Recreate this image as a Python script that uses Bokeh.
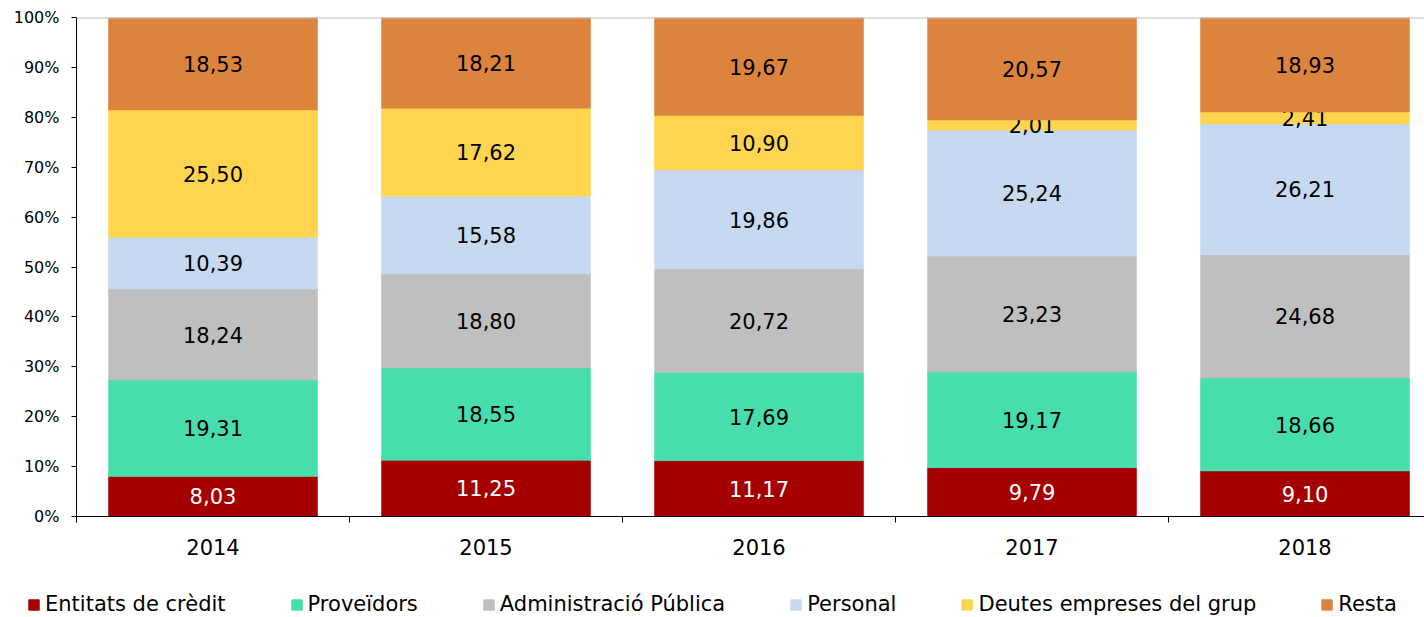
from bokeh.plotting import figure
from bokeh.layouts import column
from bokeh.models import ColumnDataSource, Range1d, FixedTicker, Span, Legend, LegendItem
from bokeh.embed import file_html
from bokeh.resources import INLINE
from bokeh.core.properties import value

years = ["2014", "2015", "2016", "2017", "2018"]
series = ["Entitats de crèdit", "Proveïdors", "Administració Pública", "Personal",
          "Deutes empreses del grup", "Resta"]
entitats = [8.03, 11.25, 11.17, 9.79, 9.10]
proveidors = [19.31, 18.55, 17.69, 19.17, 18.66]
administracio = [18.24, 18.80, 20.72, 23.23, 24.68]
personal = [10.39, 15.58, 19.86, 25.24, 26.21]
deutes = [25.50, 17.62, 10.90, 2.01, 2.41]
resta = [18.53, 18.21, 19.67, 20.57, 18.93]
y_ticks = [0, 10, 20, 30, 40, 50, 60, 70, 80, 90, 100]

values = [entitats, proveidors, administracio, personal, deutes, resta]
colors = ["#A50000", "#48DDAC", "#BFBFBF", "#C6D9F1", "#FFD54F", "#DC843E"]
label_colors = ["white", "black", "black", "black", "black", "black"]

FONT = "DejaVu Sans"
xs = list(range(len(years)))

p = figure(width=1424, height=570, x_range=Range1d(-0.5, 4.4377), y_range=Range1d(0, 100),
           output_backend="svg", toolbar_location=None,
           min_border_left=76, min_border_top=17, min_border_right=0, min_border_bottom=54)
p.outline_line_color = None
p.xgrid.visible = False
p.ygrid.visible = False
p.background_fill_color = "white"
p.border_fill_color = "white"

bottoms = [0.0] * len(years)
for name, vals, col, lc in zip(series, values, colors, label_colors):
    tops = [b + v for b, v in zip(bottoms, vals)]
    src = ColumnDataSource(dict(
        x=xs, bottom=bottoms, top=tops,
        mid=[(b + t) / 2 for b, t in zip(bottoms, tops)],
        lab=[f"{v:.2f}".replace(".", ",") for v in vals],
    ))
    p.vbar(x="x", bottom="bottom", top="top", width=0.766, source=src,
           fill_color=col, line_color=col, line_width=0.5)
    p.text(x="x", y="mid", text="lab", source=src, text_align="center",
           text_baseline="middle", text_font=value(FONT), text_font_size="21px",
           text_color=lc)
    bottoms = tops

p.add_layout(Span(location=100, dimension="width", line_color="#BFBFBF", line_width=2))

# y axis
p.yaxis.ticker = FixedTicker(ticks=y_ticks)
p.yaxis.major_label_overrides = {t: f"{t}%" for t in y_ticks}
p.yaxis.major_label_text_font = FONT
p.yaxis.major_label_text_font_size = "16px"
p.yaxis.major_label_text_color = "black"
p.yaxis.major_tick_out = 5
p.yaxis.major_tick_in = 0
p.yaxis.minor_tick_line_color = None
p.yaxis.axis_line_color = "black"
p.yaxis.major_tick_line_color = "black"
p.yaxis.major_label_standoff = 12

# x axis
p.xaxis.ticker = FixedTicker(ticks=xs, minor_ticks=[i - 0.5 for i in range(len(years) + 1)])
p.xaxis.major_label_overrides = {i: y for i, y in enumerate(years)}
p.xaxis.major_label_text_font = FONT
p.xaxis.major_label_text_font_size = "21px"
p.xaxis.major_label_text_color = "black"
p.xaxis.major_tick_out = 0
p.xaxis.major_tick_in = 0
p.xaxis.minor_tick_out = 6
p.xaxis.minor_tick_in = 0
p.xaxis.minor_tick_line_color = "black"
p.xaxis.axis_line_color = "black"
p.xaxis.major_label_standoff = 16

# legend strip (separate figure so it can span the full width)
lg = figure(width=1424, height=47, x_range=Range1d(0, 1), y_range=Range1d(0, 1),
            output_backend="svg", toolbar_location=None, min_border=0)
if hasattr(lg, "frame_align"):
    lg.frame_align = False
lg.outline_line_color = None
lg.axis.visible = False
lg.grid.visible = False
items = []
for name, col in zip(series, colors):
    r = lg.rect(x=[-10], y=[-10], width=0.01, height=0.01, fill_color=col, line_color=col)
    items.append(LegendItem(label=name, renderers=[r]))
legend = Legend(items=items, orientation="horizontal", location=(27, 1),
                glyph_width=13, glyph_height=13, label_standoff=5, spacing=64,
                padding=0, margin=0, border_line_color=None, background_fill_alpha=0,
                label_text_font=FONT, label_text_font_size="21px",
                label_text_color="black", label_height=24)
lg.add_layout(legend)

open("out.html", "w").write(file_html(column(p, lg, spacing=0), INLINE))
